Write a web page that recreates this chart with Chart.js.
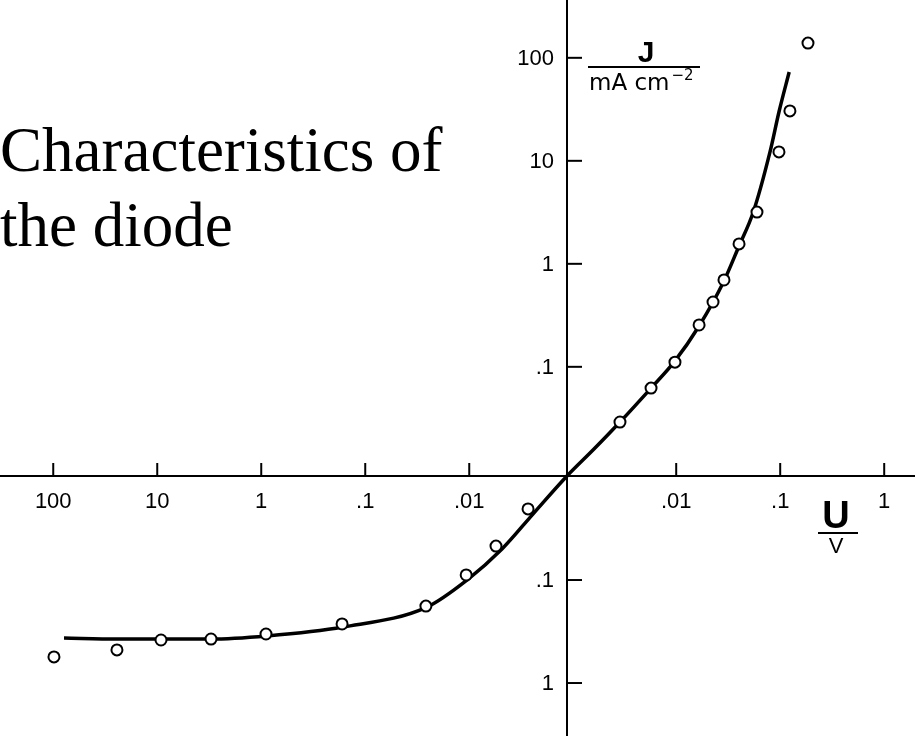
<!DOCTYPE html>
<html><head><meta charset="utf-8">
<script src="https://cdn.jsdelivr.net/npm/chart.js@4/dist/chart.umd.min.js"></script>
<style>
html,body{margin:0;padding:0;background:#fff;}
#wrap{position:relative;width:915px;height:736px;overflow:hidden;}
#c{position:absolute;left:0;top:0;}
#title{position:absolute;left:0;top:113px;font-family:"Liberation Serif","Times New Roman",serif;font-size:63px;line-height:75px;color:#000;white-space:nowrap;}
</style></head><body>
<div id="wrap"><canvas id="c" width="915" height="736"></canvas><div id="title">Characteristics of<br>the diode</div></div>
<script>
// ---- data (U in V, J in mA cm^-2; negative = reverse direction) ----
const curveU = [-78.8, -24.4, -9.4, -3.11, -0.88, -0.164, -0.0255, -0.0105, -0.00484, -0.00244, 0,
                0.00162, 0.00288, 0.00573, 0.00953, 0.0166, 0.0288, 0.0402, 0.0547, 0.0798, 0.0973, 0.122];
const curveJ = [-0.366, -0.374, -0.374, -0.374, -0.349, -0.286, -0.183, -0.100, -0.0500, -0.0229, 0,
                0.0159, 0.0291, 0.0622, 0.111, 0.249, 0.681, 1.49, 3.11, 12.2, 29.8, 72.8];
const pointU = [-98.4, -24.4, -9.2, -3.04, -0.90, -0.167, -0.0261, -0.0107, -0.00553, -0.00272,
                0.00288, 0.00573, 0.00973, 0.0166, 0.0226, 0.0288, 0.0402, 0.0598, 0.0973, 0.124, 0.185];
const pointJ = [-0.558, -0.477, -0.382, -0.374, -0.334, -0.267, -0.179, -0.0893, -0.0468, -0.0204,
                0.0291, 0.0622, 0.111, 0.255, 0.426, 0.697, 1.56, 3.18, 12.2, 30.5, 139];
const xTickValues = [-100, -10, -1, -0.1, -0.01, 0.01, 0.1, 1];
const xTickLabels = ['100', '10', '1', '.1', '.01', '.01', '.1', '1'];
const yTickValues = [-1, -0.1, 0.1, 1, 10, 100];
const yTickLabels = ['1', '.1', '.1', '1', '10', '100'];

// symmetric logarithmic mapping used by the figure (decades from the origin)
function tx(u) { if (u === 0) return 0; return u > 0 ? Math.log10(u) + 3.05 : -(Math.log10(-u) + 2.94); }
function ty(j) { if (j === 0) return 0; return j > 0 ? Math.log10(j) + 2.06 : -(Math.log10(-j) + 2.01); }

const curveData = curveU.map((u, i) => ({x: tx(u), y: ty(curveJ[i])}));
const pointData = pointU.map((u, i) => ({x: tx(u), y: ty(pointJ[i])}));

const tickFont = {family: '"Liberation Sans", Arial, sans-serif', size: 22};
const noPad = s => { s.paddingTop = 0; s.paddingBottom = 0; s.paddingLeft = 0; s.paddingRight = 0; };

const decor = {
  id: 'decor',
  afterDraw(chart) {
    const {ctx, scales: {x, y}} = chart;
    const ox = x.getPixelForValue(0), oy = y.getPixelForValue(0);
    ctx.save();
    ctx.strokeStyle = '#000'; ctx.fillStyle = '#000'; ctx.lineWidth = 2;
    xTickValues.forEach(v => { const p = x.getPixelForValue(tx(v)); ctx.beginPath(); ctx.moveTo(p, oy); ctx.lineTo(p, oy - 13); ctx.stroke(); });
    ctx.font = '22px "Liberation Sans", Arial, sans-serif';
    ctx.textAlign = 'right'; ctx.textBaseline = 'middle';
    yTickValues.forEach((v, i) => {
      const p = y.getPixelForValue(ty(v));
      ctx.beginPath(); ctx.moveTo(ox, p); ctx.lineTo(ox + 15, p); ctx.stroke();
      ctx.fillText(yTickLabels[i], ox - 13, p + 1);
    });
    // J / mA cm^-2
    ctx.textAlign = 'center'; ctx.textBaseline = 'alphabetic';
    ctx.font = 'bold 30px "Liberation Sans", Arial, sans-serif';
    ctx.fillText('J', ox + 79, 62);
    ctx.beginPath(); ctx.moveTo(ox + 21, 67); ctx.lineTo(ox + 133, 67); ctx.stroke();
    ctx.textAlign = 'left';
    ctx.font = '23px "DejaVu Sans", sans-serif';
    ctx.fillText('mA cm', ox + 22, 90);
    const w = ctx.measureText('mA cm').width;
    ctx.font = '15px "DejaVu Sans", sans-serif';
    ctx.fillText('\u22122', ox + 24 + w, 80);
    // U / V
    ctx.textAlign = 'center';
    ctx.font = 'bold 38px "Liberation Sans", Arial, sans-serif';
    ctx.fillText('U', ox + 269, oy + 52);
    ctx.beginPath(); ctx.moveTo(ox + 251, oy + 57); ctx.lineTo(ox + 291, oy + 57); ctx.stroke();
    ctx.font = '22px "Liberation Sans", Arial, sans-serif';
    ctx.fillText('V', ox + 269, oy + 77);
    ctx.restore();
  }
};

new Chart(document.getElementById('c'), {
  type: 'scatter',
  data: {
    datasets: [
      {label: 'measured', data: pointData, showLine: false, pointRadius: 5.5, pointHoverRadius: 5.5,
       pointBorderWidth: 2, pointBackgroundColor: '#fff', pointBorderColor: '#000', order: 0, clip: false},
      {label: 'fit', data: curveData, showLine: true, pointRadius: 0, borderColor: '#000', borderWidth: 3.5,
       cubicInterpolationMode: 'monotone', order: 1, clip: false}
    ]
  },
  options: {
    responsive: false, animation: false, devicePixelRatio: 1,
    layout: {padding: 0, autoPadding: false},
    plugins: {legend: {display: false}, tooltip: {enabled: false}, title: {display: false}},
    scales: {
      x: {
        type: 'linear', min: -567 / 104, max: 348 / 104, position: {y: 0},
        afterBuildTicks: s => { s.ticks = xTickValues.map(v => ({value: tx(v)})); },
        afterFit: noPad,
        ticks: {autoSkip: false, maxRotation: 0, minRotation: 0, padding: 13, color: '#000', font: tickFont,
                callback: (v, i) => xTickLabels[i]},
        grid: {display: false, drawTicks: false},
        border: {display: true, color: '#000', width: 2}
      },
      y: {
        type: 'linear', min: -260 / 103, max: 476 / 103, position: {x: 0},
        afterBuildTicks: s => { s.ticks = yTickValues.map(v => ({value: ty(v)})); },
        afterFit: noPad,
        ticks: {display: false},
        grid: {display: false, drawTicks: false},
        border: {display: true, color: '#000', width: 2}
      }
    }
  },
  plugins: [decor]
});
</script>
</body></html>
